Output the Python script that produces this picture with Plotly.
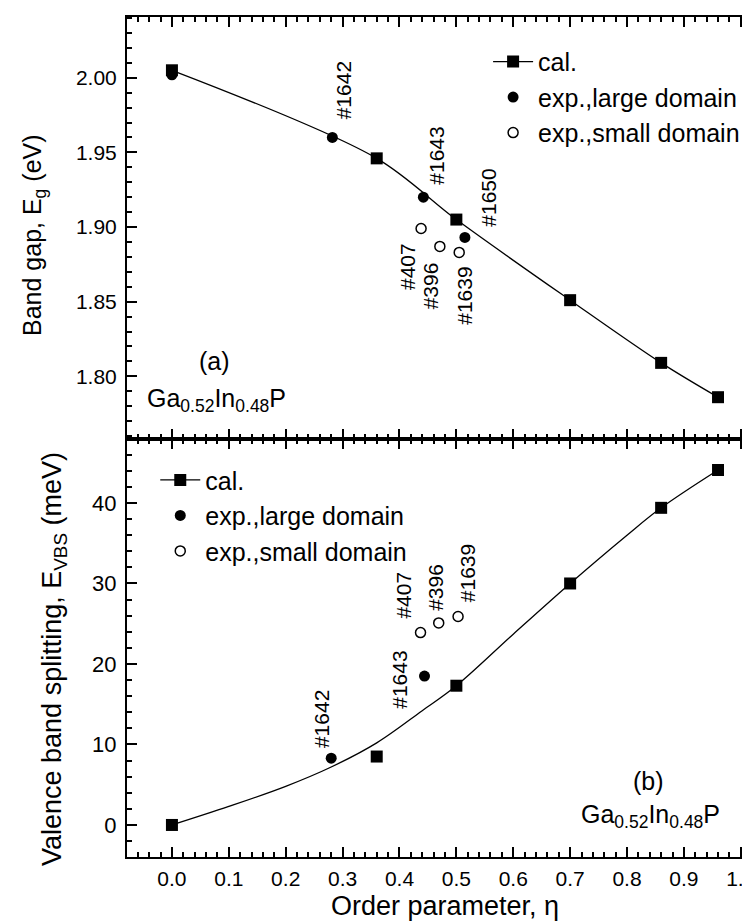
import plotly.graph_objects as go

# ---------------- data ----------------
eta_cal = [0.0, 0.36, 0.50, 0.70, 0.86, 0.96]
eg_cal = [2.005, 1.946, 1.905, 1.851, 1.809, 1.786]
evbs_cal = [0.0, 8.5, 17.3, 30.0, 39.4, 44.1]

# smooth calculated curve for panel (b)
eta_fit_b = [0.0, 0.10, 0.20, 0.28, 0.36, 0.44, 0.50, 0.60, 0.70, 0.80, 0.86, 0.96]
evbs_fit_b = [0.0, 2.3, 4.8, 7.2, 10.2, 14.2, 17.3, 23.7, 30.0, 36.0, 39.4, 44.1]

eta_large_a = [0.0, 0.282, 0.442, 0.515]
eg_large = [2.002, 1.960, 1.920, 1.893]
eta_small_a = [0.438, 0.471, 0.505]
eg_small = [1.899, 1.887, 1.883]

eta_large_b = [0.28, 0.444]
evbs_large = [8.3, 18.5]
eta_small_b = [0.437, 0.469, 0.503]
evbs_small = [23.9, 25.1, 25.9]

labels_a = ["#1642", "#1643", "#1650", "#407", "#396", "#1639"]
labels_b = ["#1642", "#1643", "#407", "#396", "#1639"]

FONT = "Liberation Sans, Arial, Helvetica, sans-serif"

# layout geometry (pixels)
W, H = 750, 924
L, R, T, B = 119, 3, 9, 75
div_px = 431
plot_w = W - L - R
plot_h = H - T - B
split = (H - B - div_px) / plot_h


def px2paper(px_x, px_y):
    return (px_x - L) / plot_w, (H - B - px_y) / plot_h


fig = go.Figure()

sq = dict(symbol="square", size=12, color="black")
fc = dict(symbol="circle", size=11, color="black")
oc = dict(symbol="circle-open", size=10, color="black", line=dict(width=1.5, color="black"))

# ---- panel (a) ----
fig.add_trace(go.Scatter(x=eta_cal, y=eg_cal, mode="lines+markers",
                         line=dict(color="black", width=1.3, shape="spline", smoothing=0.9),
                         marker=sq, xaxis="x2", yaxis="y2", showlegend=False))
fig.add_trace(go.Scatter(x=eta_large_a, y=eg_large, mode="markers", marker=fc,
                         xaxis="x2", yaxis="y2", showlegend=False))
fig.add_trace(go.Scatter(x=eta_small_a, y=eg_small, mode="markers", marker=oc,
                         xaxis="x2", yaxis="y2", showlegend=False))
# legend entries (a)
fig.add_trace(go.Scatter(x=[None], y=[None], mode="lines+markers", name="cal.",
                         line=dict(color="black", width=1.3), marker=sq,
                         xaxis="x2", yaxis="y2", legend="legend"))
fig.add_trace(go.Scatter(x=[None], y=[None], mode="markers", name="exp.,large domain",
                         marker=fc, xaxis="x2", yaxis="y2", legend="legend"))
fig.add_trace(go.Scatter(x=[None], y=[None], mode="markers", name="exp.,small domain",
                         marker=oc, xaxis="x2", yaxis="y2", legend="legend"))

# ---- panel (b) ----
fig.add_trace(go.Scatter(x=eta_fit_b, y=evbs_fit_b, mode="lines",
                         line=dict(color="black", width=1.3, shape="spline"),
                         showlegend=False))
fig.add_trace(go.Scatter(x=eta_cal, y=evbs_cal, mode="markers", marker=sq, showlegend=False))
fig.add_trace(go.Scatter(x=eta_large_b, y=evbs_large, mode="markers", marker=fc, showlegend=False))
fig.add_trace(go.Scatter(x=eta_small_b, y=evbs_small, mode="markers", marker=oc, showlegend=False))
fig.add_trace(go.Scatter(x=[None], y=[None], mode="lines+markers", name="cal.",
                         line=dict(color="black", width=1.3), marker=sq, legend="legend2"))
fig.add_trace(go.Scatter(x=[None], y=[None], mode="markers", name="exp.,large domain",
                         marker=fc, legend="legend2"))
fig.add_trace(go.Scatter(x=[None], y=[None], mode="markers", name="exp.,small domain",
                         marker=oc, legend="legend2"))

# ---- annotations ----
pos_a = [(0.302, 1.9914), (0.465, 1.9481), (0.557, 1.9195),
         (0.413, 1.8738), (0.456, 1.8605), (0.515, 1.8539)]
pos_b = [(0.263, 13.1), (0.400, 18.1), (0.408, 28.5), (0.463, 29.5), (0.519, 31.3)]
ann = []
for t, (x, y) in zip(labels_a, pos_a):
    ann.append(dict(text=t, x=x, y=y, xref="x2", yref="y2", textangle=-90,
                    showarrow=False, font=dict(size=21, family=FONT, color="black")))
for t, (x, y) in zip(labels_b, pos_b):
    ann.append(dict(text=t, x=x, y=y, xref="x", yref="y", textangle=-90,
                    showarrow=False, font=dict(size=21, family=FONT, color="black")))

tx, ty = px2paper(26, 227)
bx, by = px2paper(46, 651)
ox, oy = px2paper(437, 898)
ann += [
    dict(text="(a)", x=0.074, y=1.810, xref="x2", yref="y2", showarrow=False,
         font=dict(size=25, family=FONT, color="black")),
    dict(text="Ga<sub>0.52</sub>In<sub>0.48</sub>P", x=0.079, y=1.784, xref="x2", yref="y2",
         showarrow=False, font=dict(size=25, family=FONT, color="black")),
    dict(text="(b)", x=0.838, y=5.5, xref="x", yref="y", showarrow=False,
         font=dict(size=25, family=FONT, color="black")),
    dict(text="Ga<sub>0.52</sub>In<sub>0.48</sub>P", x=0.841, y=1.1, xref="x", yref="y",
         showarrow=False, font=dict(size=25, family=FONT, color="black")),
    dict(text="Band gap, E<sub>g</sub> (eV)", x=tx, y=ty, xref="paper", yref="paper",
         textangle=-90, showarrow=False, font=dict(size=25, family=FONT, color="black"),
         xanchor="center", yanchor="middle"),
    dict(text="Valence band splitting, E<sub>VBS</sub> (meV)", x=bx, y=by,
         xref="paper", yref="paper", textangle=-90, showarrow=False,
         font=dict(size=27, family=FONT, color="black"), xanchor="center", yanchor="middle"),
    dict(text="Order parameter, η", x=ox, y=oy,
         xref="paper", yref="paper", showarrow=False,
         font=dict(size=27, family=FONT, color="black"), xanchor="center", yanchor="middle"),
]

axis_common = dict(showline=True, linewidth=2, linecolor="black", mirror="allticks",
                   ticks="inside", ticklen=10, tickwidth=2, tickcolor="black",
                   showgrid=False, zeroline=False, automargin=False)
minor_common = dict(ticks="inside", ticklen=5, tickwidth=1.5, tickcolor="black", showgrid=False)

fig.update_layout(
    width=W, height=H,
    margin=dict(l=L, r=R, t=T, b=B),
    paper_bgcolor="white", plot_bgcolor="white",
    font=dict(family=FONT, color="black"),
    annotations=ann,
    xaxis=dict(domain=[0, 1], anchor="y", range=[-0.079, 1.025], dtick=0.1, tick0=0,
               tickformat=".1f", ticklabelstandoff=2,
               tickfont=dict(size=21, family=FONT, color="black"),
               minor=dict(dtick=0.02, **minor_common), **axis_common),
    xaxis2=dict(domain=[0, 1], anchor="y2", matches="x", range=[-0.079, 1.025], dtick=0.1,
                tick0=0, showticklabels=False,
                minor=dict(dtick=0.02, **minor_common), **axis_common),
    yaxis=dict(domain=[0, split], anchor="x", range=[-3.98, 47.95], dtick=10, tick0=0,
               ticklabelstandoff=4, tickfont=dict(size=22, family=FONT, color="black"),
               minor=dict(dtick=2, **minor_common), **axis_common),
    yaxis2=dict(domain=[split, 1], anchor="x2", range=[1.758, 2.0407], dtick=0.05, tick0=2.0,
                tickformat=".2f", ticklabelstandoff=4,
                tickfont=dict(size=21, family=FONT, color="black"),
                minor=dict(dtick=0.01, **minor_common), **axis_common),
    legend=dict(x=0.575, y=0.974, xanchor="left", yanchor="top", bgcolor="rgba(0,0,0,0)",
                font=dict(size=25, family=FONT, color="black"), tracegroupgap=0,
                itemwidth=40),
    legend2=dict(x=0.045, y=0.476, xanchor="left", yanchor="top", bgcolor="rgba(0,0,0,0)",
                 font=dict(size=25, family=FONT, color="black"), tracegroupgap=0,
                 itemwidth=40),
)

fig.write_html("out.html")
